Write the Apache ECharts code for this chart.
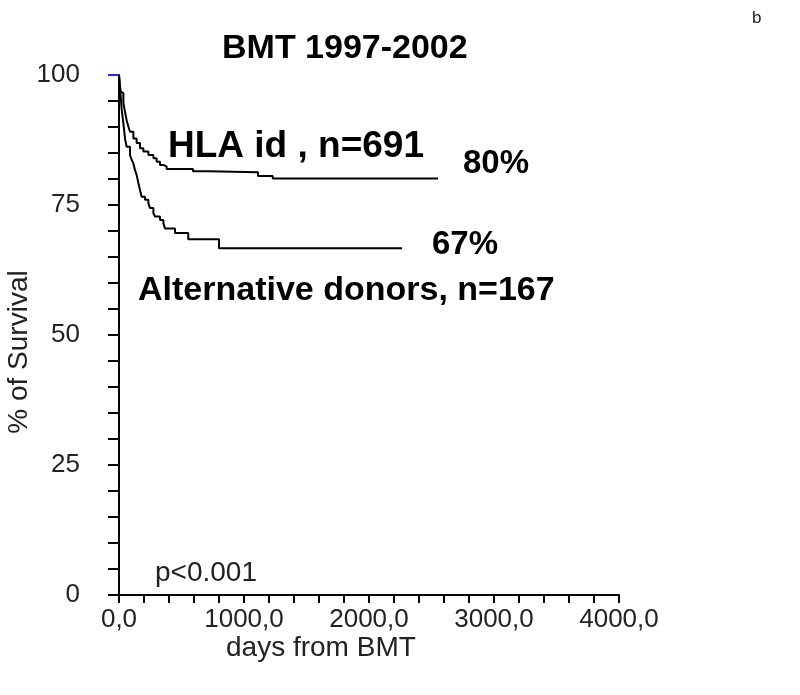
<!DOCTYPE html>
<html>
<head>
<meta charset="utf-8">
<script src="https://cdn.jsdelivr.net/npm/echarts@6/dist/echarts.min.js"></script>
<style>html,body{margin:0;padding:0;background:#fff}#c{width:800px;height:695px}</style>
</head>
<body>
<div id="c"></div>
<script>
// Kaplan-Meier survival data
var hlaDays = [0, 5, 13, 27, 35, 48, 61, 75, 88, 115, 141, 168, 195, 235, 275, 301, 328, 355, 381, 592, 712, 1112, 1230, 2552];
var hlaSurv = [100, 98.5, 96.8, 96.5, 94.6, 92.9, 91.3, 90.1, 89.1, 87.8, 86.9, 85.9, 85.3, 84.6, 84.0, 83.3, 82.7, 82.4, 81.9, 81.5, 81.3, 80.6, 80.1, 80.1];
var altDays = [0, 10, 21, 35, 48, 61, 88, 101, 115, 128, 141, 155, 168, 181, 208, 235, 248, 275, 288, 328, 355, 368, 448, 554, 800, 2264];
var altSurv = [100, 97, 93.5, 90.7, 87.8, 86.2, 84.6, 83.7, 83.0, 81.7, 80.8, 79.2, 77.9, 76.6, 76.0, 75.3, 74.4, 73.4, 72.8, 72.1, 71.5, 70.5, 69.6, 68.4, 66.7, 66.7];
var xTicks = [0, 1000, 2000, 3000, 4000];
var yTicks = [0, 25, 50, 75, 100];
var titleText = 'BMT 1997-2002';
var hlaLabel = 'HLA id , n=691';
var altLabel = 'Alternative donors, n=167';
var hlaPct = '80%';
var altPct = '67%';

function pairs(xs, ys) { return xs.map(function (x, i) { return [x, ys[i]]; }); }

var FONT = 'Liberation Sans, Arial, sans-serif';
var chart = echarts.init(document.getElementById('c'), null, {renderer: 'canvas'});
chart.setOption({
  animation: false,
  backgroundColor: '#fff',
  grid: {left: 119, top: 75, width: 500, height: 520, containLabel: false},
  xAxis: {
    type: 'value', min: xTicks[0], max: xTicks[xTicks.length - 1], interval: 1000,
    axisLine: {onZero: false, lineStyle: {color: '#000', width: 2}},
    axisTick: {show: true, length: 8, lineStyle: {color: '#000', width: 2}},
    minorTick: {show: true, splitNumber: 5, length: 8, lineStyle: {color: '#000', width: 2}},
    splitLine: {show: false},
    axisLabel: {margin: 12, fontSize: 26, color: '#222', fontFamily: FONT,
      formatter: function (v) { return v.toFixed(1).replace('.', ','); }}
  },
  yAxis: [{
    type: 'value', min: yTicks[0], max: yTicks[yTicks.length - 1], interval: 25,
    axisLine: {show: true, lineStyle: {color: '#000', width: 2}},
    axisTick: {show: true, length: 11, lineStyle: {color: '#000', width: 2}},
    minorTick: {show: true, splitNumber: 5, length: 11, lineStyle: {color: '#000', width: 2}},
    splitLine: {show: false},
    axisLabel: {margin: 39, fontSize: 26, color: '#222', fontFamily: FONT, padding: [0, 0, 14, 0]}
  }, {
    type: 'value', position: 'left', offset: 0, z: 5,
    min: yTicks[0], max: yTicks[yTicks.length - 1], interval: 25,
    axisLine: {show: false},
    axisTick: {show: true, length: 11, customValues: [yTicks[yTicks.length - 1]], lineStyle: {color: '#2a2ad0', width: 2}},
    axisLabel: {show: false},
    splitLine: {show: false}
  }],
  series: [
    {type: 'line', step: 'end', symbol: 'none', data: pairs(hlaDays, hlaSurv),
     lineStyle: {color: '#000', width: 2}},
    {type: 'line', step: 'end', symbol: 'none', data: pairs(altDays, altSurv),
     lineStyle: {color: '#000', width: 2}}
  ],
  graphic: [
    {type: 'text', left: 222, top: 32, style: {text: titleText, font: 'bold 34px ' + FONT, fill: '#000'}},
    {type: 'text', left: 752, top: 10, style: {text: 'b', font: '17px ' + FONT, fill: '#222'}},
    {type: 'text', left: 168, top: 128, style: {text: hlaLabel, font: 'bold 37px ' + FONT, fill: '#000'}},
    {type: 'text', left: 463, top: 147, style: {text: hlaPct, font: 'bold 33px ' + FONT, fill: '#000'}},
    {type: 'text', left: 432, top: 228, style: {text: altPct, font: 'bold 33px ' + FONT, fill: '#000'}},
    {type: 'text', left: 138, top: 274, style: {text: altLabel, font: 'bold 34px ' + FONT, fill: '#000'}},
    {type: 'text', left: 155, top: 559, style: {text: 'p<0.001', font: '28px ' + FONT, fill: '#222'}},
    {type: 'text', left: 226, top: 634, style: {text: 'days from BMT', font: '28px ' + FONT, fill: '#222'}},
    {type: 'text', x: 19, y: 352, rotation: Math.PI / 2,
     style: {text: '% of Survival', font: '28px ' + FONT, fill: '#222', align: 'center', verticalAlign: 'middle'}}
  ]
});
</script>
</body>
</html>
